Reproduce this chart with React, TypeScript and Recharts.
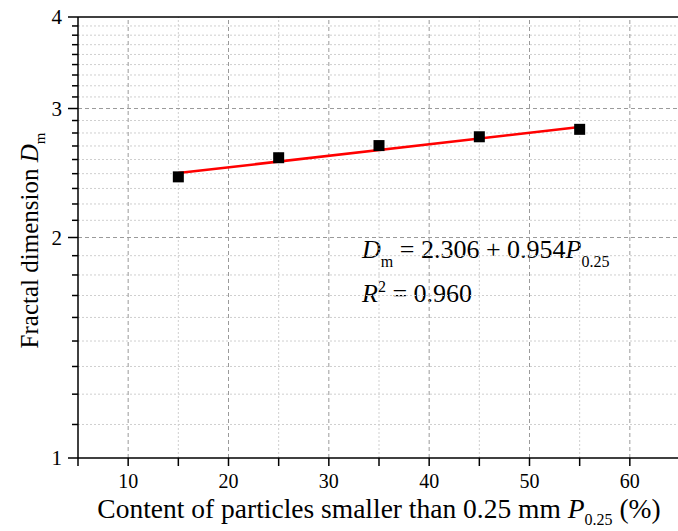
import React from 'react';
import {
  ComposedChart,
  Line,
  Scatter,
  XAxis,
  YAxis,
  ReferenceLine,
  Label,
} from 'recharts';

// P0.25 content (%) and measured fractal dimension Dm
const contentValues = [15, 25, 35, 45, 55];
const dmValues = [2.42, 2.57, 2.67, 2.745, 2.81];

// fitted line end points, Dm = 2.306 + 0.954 P0.25
const fitContent = [15, 55];
const fitDm = [2.449, 2.831];

const xMajorTicks = [10, 20, 30, 40, 50, 60];
const xMinorTicks = [5, 15, 25, 35, 45, 55];
const yMajorTicks = [1, 2, 3, 4];
const yMinorPerStep = 8;

const FONT = '"Liberation Serif", "Times New Roman", serif';
const Y_TICK_MARGIN = 6;

const points = contentValues.map((x, i) => ({ x, dm: dmValues[i] }));
const fitPoints = fitContent.map((x, i) => ({ x, fit: fitDm[i] }));

// Origin-style minor ticks: evenly spaced in value between the majors
const yMinorTicks: number[] = [];
for (let i = 0; i < yMajorTicks.length - 1; i++) {
  const a = yMajorTicks[i];
  const b = yMajorTicks[i + 1];
  for (let k = 1; k <= yMinorPerStep; k++) {
    yMinorTicks.push(a + ((b - a) * k) / (yMinorPerStep + 1));
  }
}
const yAllTicks = [...yMajorTicks, ...yMinorTicks].sort((a, b) => a - b);
const xAllTicks = [...xMajorTicks, ...xMinorTicks].sort((a, b) => a - b);

const YTick = (props: any) => {
  const { x, y, payload } = props;
  const major = yMajorTicks.includes(payload.value);
  const axisX = x + Y_TICK_MARGIN;
  return (
    <g>
      <line
        x1={axisX - (major ? 10 : 6)}
        x2={axisX}
        y1={y}
        y2={y}
        stroke="#000"
        strokeWidth={1.5}
      />
      {major && (
        <text x={axisX - 16} y={y} dy="0.35em" textAnchor="end" fontSize={21} fontFamily={FONT} fill="#000">
          {payload.value}
        </text>
      )}
    </g>
  );
};

const SquareDot = (props: any) => {
  const { cx, cy } = props;
  return <rect x={cx - 5.5} y={cy - 5.5} width={11} height={11} fill="#000" />;
};

const YTitle = (props: any) => {
  const { viewBox } = props;
  const cx = viewBox.x + 38;
  const cy = viewBox.y + viewBox.height / 2 + 3;
  return (
    <text
      x={cx}
      y={cy}
      transform={`rotate(-90, ${cx}, ${cy})`}
      textAnchor="middle"
      fontSize={25}
      fontFamily={FONT}
      fill="#000"
    >
      Fractal dimension <tspan fontStyle="italic">D</tspan>
      <tspan fontSize={15} dy={7}>m</tspan>
    </text>
  );
};

const XTitle = (props: any) => {
  const { viewBox } = props;
  const cx = viewBox.x + viewBox.width / 2;
  return (
    <text x={cx} y={518} textAnchor="middle" fontSize={27.5} fontFamily={FONT} fill="#000">
      Content of particles smaller than 0.25 mm <tspan fontStyle="italic">P</tspan>
      <tspan fontSize={16} dy={7}>0.25</tspan>
      <tspan dy={-7}> (%)</tspan>
    </text>
  );
};

export default function App() {
  return (
    <div style={{ position: 'absolute', left: 0, top: 0, width: 678, height: 531, overflow: 'hidden', background: '#fff' }}>
      <ComposedChart
        width={682}
        height={531}
        margin={{ top: 17, right: 2, bottom: 0, left: 0 }}
      >
        <XAxis
          dataKey="x"
          type="number"
          domain={[5, 65]}
          allowDataOverflow
          ticks={xAllTicks}
          interval={0}
          tickFormatter={(v: number) => (v % 10 === 0 ? String(v) : '')}
          height={73}
          tickSize={8}
          tickMargin={8}
          axisLine={{ stroke: '#000', strokeWidth: 1.5 }}
          tickLine={{ stroke: '#000', strokeWidth: 1.5 }}
          tick={{ fill: '#000', fontSize: 20, fontFamily: FONT }}
        >
          <Label content={XTitle} />
        </XAxis>
        <YAxis
          type="number"
          scale="log"
          domain={[1, 4]}
          allowDataOverflow
          ticks={yAllTicks}
          interval={0}
          width={78}
          tickSize={0}
          tickMargin={Y_TICK_MARGIN}
          tickLine={false}
          axisLine={{ stroke: '#000', strokeWidth: 1.5 }}
          tick={<YTick />}
        >
          <Label content={YTitle} />
        </YAxis>

        {yMinorTicks.map((v) => (
          <ReferenceLine key={`ym${v}`} y={v} stroke="#cfcfcf" strokeDasharray="2 2" strokeWidth={1} />
        ))}
        {xMinorTicks.slice(1).map((v) => (
          <ReferenceLine key={`xm${v}`} x={v} stroke="#cfcfcf" strokeDasharray="2 2" strokeWidth={1} />
        ))}
        {yMajorTicks.slice(1, -1).map((v) => (
          <ReferenceLine key={`yM${v}`} y={v} stroke="#9a9a9a" strokeDasharray="4 3" strokeWidth={1} />
        ))}
        {xMajorTicks.map((v) => (
          <ReferenceLine key={`xM${v}`} x={v} stroke="#9a9a9a" strokeDasharray="4 3" strokeWidth={1} />
        ))}
        <ReferenceLine y={4} stroke="#000" strokeWidth={1.5} />

        <Line
          data={fitPoints}
          dataKey="fit"
          type="linear"
          stroke="#ff0000"
          strokeWidth={2.5}
          dot={false}
          activeDot={false}
          isAnimationActive={false}
        />
        <Scatter
          data={points}
          dataKey="dm"
          shape={SquareDot}
          fill="#000"
          isAnimationActive={false}
        />

        <text x={362} y={258} fontSize={26} fontFamily={FONT} fill="#000">
          <tspan fontStyle="italic">D</tspan>
          <tspan fontSize={16} dy={9}>m</tspan>
          <tspan dy={-9}> = 2.306 + 0.954</tspan>
          <tspan fontStyle="italic">P</tspan>
          <tspan fontSize={16} dy={9}>0.25</tspan>
        </text>
        <text x={362} y={302} fontSize={26} fontFamily={FONT} fill="#000">
          <tspan fontStyle="italic">R</tspan>
          <tspan fontSize={16} dy={-10}>2</tspan>
          <tspan dy={10}> = 0.960</tspan>
        </text>
      </ComposedChart>
    </div>
  );
}
